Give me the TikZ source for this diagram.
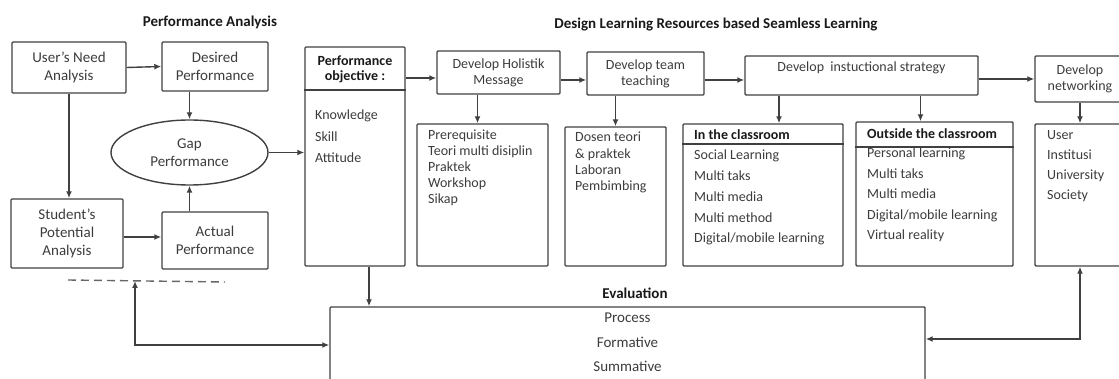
\documentclass[tikz,border=0pt]{standalone}
\usepackage{fontspec}
\setmainfont{Carlito}
\usetikzlibrary{shapes,arrows.meta,calc}
\definecolor{linegray}{HTML}{404040}
\definecolor{textgray}{HTML}{3C3C3C}
\tikzset{%
	boxnode/.style={rectangle, draw=linegray, line width=1.4pt, rounded corners=1pt, align=center, text=textgray, inner sep=0pt, font=\fontsize{14}{16}\selectfont},
	bignode/.style={boxnode, font=\fontsize{15}{18}\selectfont},
	itemnode/.style={anchor=west, inner sep=0pt, text=textgray, text height=9pt, text depth=3pt, font=\fontsize{14}{16}\selectfont},
	headnode/.style={inner sep=0pt, text=black!90, font=\bfseries\fontsize{14}{15}\selectfont},
	titlenode/.style={inner sep=0pt, text=black!90, font=\bfseries\fontsize{15}{18}\selectfont},
	pt/.style={draw=linegray, line width=1.4pt, -{Latex[length=7pt,width=6pt]}},
	dpt/.style={pt, {Latex[length=7pt,width=6pt]}-{Latex[length=7pt,width=6pt]}},
	sep/.style={draw=linegray, line width=1.4pt}
}

\begin{document}
\begin{tikzpicture}[x=1pt, y=-1pt]
	\useasboundingbox (0,0) rectangle (1119,379);

	% performance analysis
	\node[titlenode] (pa) at (210,22) {Performance Analysis};
	\node[bignode, minimum width=114, minimum height=51] (un) at (69,67.5) {User’s Need\\Analysis};
	\node[bignode, minimum width=106, minimum height=49] (dp) at (215,66.5) {Desired\\Performance};
	\node[bignode, ellipse, minimum width=157, minimum height=65] (gap) at (189.5,152.5) {Gap\\Performance};
	\node[bignode, minimum width=112, minimum height=69] (sp) at (67,233.5) {Student’s\\Potential\\Analysis};
	\node[bignode, minimum width=106, minimum height=57] (ap) at (215,240.5) {Actual\\Performance};

	\draw[pt] (un.east) -- (dp.west);
	\draw[pt] (un.south) -- (un.south |- sp.north);
	\draw[pt] ([yshift=-3.5pt]sp.east) -- ([yshift=-3.5pt]sp.east -| ap.west);
	\draw[pt] (gap.north |- dp.south) -- (gap.north);
	\draw[pt] (gap.south |- ap.north) -- (gap.south);

	\coordinate (dl) at (68,280);
	\coordinate (dr) at (225,282);
	\draw[sep, draw=linegray!80, dash pattern=on 8pt off 5pt] (dl) -- (dr);

	% design learning resources
	\node[titlenode] (dlr) at (716,25) {Design Learning Resources based Seamless Learning};

	\node[boxnode, minimum width=100, minimum height=219] (po) at (355,156.5) {};
	\node[headnode, align=center] (poh) at (355,69.5) {Performance\\objective :};
	\draw[sep] (po.west |- 0,90) -- (po.east |- 0,90);
	\foreach \t [count=\i from 0] in {Knowledge,Skill,Attitude}
		\node[itemnode] (po\i) at (315,{117+21.5*\i}) {\t};

	\node[boxnode, minimum width=123, minimum height=43] (hm) at (498.5,72.5) {Develop Holistik\\Message};
	\node[boxnode, minimum width=117, minimum height=43] (tt) at (645.5,73.5) {Develop team\\teaching};
	\node[boxnode, minimum width=233, minimum height=39] (is) at (861.5,75.5) {};
	\node[itemnode, anchor=center] (ist) at (861.5,69) {Develop\ \ instuctional strategy};
	\node[boxnode, minimum width=90, minimum height=46] (nw) at (1080,79) {Develop\\networking};

	\draw[pt] (gap.east) -- (gap.east -| po.west);
	\draw[pt] ([yshift=-5.5pt]hm.west -| po.east) -- ([yshift=-5.5pt]hm.west);
	\draw[pt] ([yshift=-7.5pt]hm.east) -- ([yshift=-7.5pt]hm.east -| tt.west);
	\draw[pt] ([yshift=-6.5pt]tt.east) -- ([yshift=-6.5pt]tt.east -| is.west);
	\draw[pt] (nw.west -| is.east) -- (nw.west);

	% lists
	\node[boxnode, minimum width=131, minimum height=142] (pr) at (482.5,195) {};
	\foreach \t [count=\i from 0] in {Prerequisite,Teori multi disiplin,Praktek,Workshop,Sikap}
		\node[itemnode] (pr\i) at (428,{137+16*\i}) {\t};

	\node[boxnode, minimum width=101, minimum height=139] (ds) at (615.5,196.5) {};
	\foreach \t [count=\i from 0] in {Dosen teori,\& praktek,Laboran,Pembimbing}
		\node[itemnode] (ds\i) at (575,{139+16.3*\i}) {\t};

	\node[boxnode, minimum width=160, minimum height=142] (cl) at (763,195) {};
	\node[headnode, anchor=west] (clh) at (694,135) {In the classroom};
	\draw[sep] (cl.west |- 0,144) -- (cl.east |- 0,144);
	\foreach \t [count=\i from 0] in {Social Learning,Multi taks,Multi media,Multi method,Digital/mobile learning}
		\node[itemnode] (cl\i) at (694,{157+20.7*\i}) {\t};

	\node[boxnode, minimum width=157, minimum height=144] (oc) at (934.5,194) {};
	\node[headnode, anchor=west] (och) at (867,134) {Outside the classroom};
	\draw[sep] (oc.west |- 0,147) -- (oc.east |- 0,147);
	\foreach \t [count=\i from 0] in {Personal learning,Multi taks,Multi media,Digital/mobile learning,Virtual reality}
		\node[itemnode] (oc\i) at (867,{155+20.5*\i}) {\t};

	\node[boxnode, minimum width=90, minimum height=142] (us) at (1080,195) {};
	\foreach \t [count=\i from 0] in {User,Institusi,University,Society}
		\node[itemnode] (us\i) at (1047,{137+20*\i}) {\t};

	\draw[pt] ([xshift=-5pt]pr.north |- hm.south) -- ([xshift=-5pt]pr.north);
	\draw[pt] (ds.north |- tt.south) -- (ds.north);
	\draw[pt] ([xshift=16pt]cl.north |- is.south) -- ([xshift=16pt]cl.north);
	\draw[pt] ([xshift=-14pt]oc.north |- is.south) -- ([xshift=-14pt]oc.north);
	\draw[pt] (nw.south) -- (us.north);

	% evaluation
	\node[boxnode, minimum width=595, minimum height=76] (ev) at (627.5,345) {};
	\node[titlenode] (evh) at (635,293) {Evaluation};
	\foreach \t/\y in {Process/320,Formative/345,Summative/368}
		\node[itemnode, anchor=center, font=\fontsize{15}{18}\selectfont] (ev\t) at (627.5,\y) {\t};

	\draw[pt] ([xshift=14pt]po.south) -- ([xshift=14pt]po.south |- ev.north);
	\coordinate (fb) at (135,281);
	\draw[dpt] (fb) |- (ev);
	\draw[dpt] (us.south) |- ([yshift=6pt]ev.east);
\end{tikzpicture}
\end{document}
